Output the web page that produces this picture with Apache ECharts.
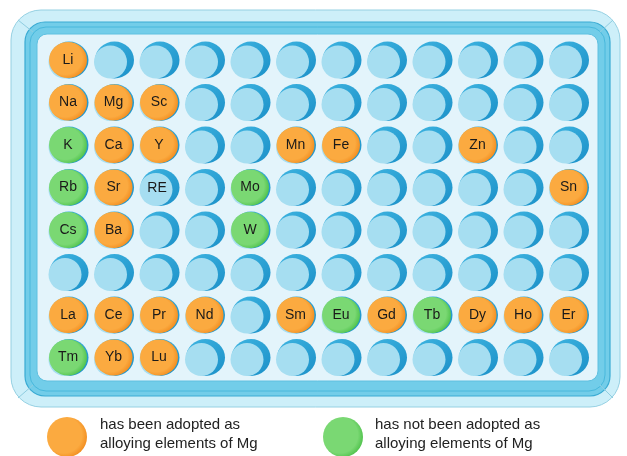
<!DOCTYPE html>
<html><head><meta charset="utf-8">
<script src="https://cdn.jsdelivr.net/npm/echarts@6/dist/echarts.min.js"></script>
<style>html,body{margin:0;padding:0;background:#fff}#c{width:627px;height:456px}</style>
</head><body><div id="c"></div>
<script>
const nCols = 12, nRows = 8;
// [name, column, row]
const adopted = [
  ['Li',0,0],['Na',0,1],['Mg',1,1],['Sc',2,1],
  ['Ca',1,2],['Y',2,2],['Mn',5,2],['Fe',6,2],['Zn',9,2],
  ['Sr',1,3],['Sn',11,3],['Ba',1,4],
  ['La',0,6],['Ce',1,6],['Pr',2,6],['Nd',3,6],['Sm',5,6],['Gd',7,6],['Dy',9,6],['Ho',10,6],['Er',11,6],
  ['Yb',1,7],['Lu',2,7]
];
const notAdopted = [
  ['K',0,2],['Rb',0,3],['Mo',4,3],['Cs',0,4],['W',4,4],['Eu',6,6],['Tb',8,6],['Tm',0,7]
];
const wellLabels = [['RE',2,3]];
const legendTexts = ['has been adopted as\nalloying elements of Mg','has not been adopted as\nalloying elements of Mg'];

const wells = [];
for (let r = 0; r < nRows; r++) for (let c = 0; c < nCols; c++) wells.push([c, r]);

function grad(c1, c2) {
  return {type:'radial', x:0.42, y:0.45, r:0.6, colorStops:[{offset:0,color:c1},{offset:0.75,color:c1},{offset:1,color:c2}]};
}
const orange = grad('#fbaa40', '#f28d1f');
const green = grad('#7ad873', '#4fc24c');
const font = '"Liberation Sans", Arial, sans-serif';

const chart = echarts.init(document.getElementById('c'));
chart.setOption({
  animation:false,
  grid:{left:68, right:58.5, top:60, bottom:98.5},
  xAxis:{type:'value', min:0, max:nCols-1, show:false},
  yAxis:{type:'value', min:0, max:nRows-1, inverse:true, show:false},
  graphic:[
    {type:'rect', z:-10, shape:{x:11,y:10,width:609,height:397,r:30}, style:{fill:'#cdeff9', stroke:'#95d0e2', lineWidth:1}},
    {type:'rect', z:-9, shape:{x:25,y:22,width:585,height:374,r:20}, style:{fill:'#72cde9', stroke:'#3aabd3', lineWidth:1.2}},
    {type:'rect', z:-8, shape:{x:30,y:27,width:575,height:364,r:16}, style:{fill:'none', stroke:'#48b8dc', lineWidth:1}},
    {type:'rect', z:-7, shape:{x:37,y:34,width:561,height:347,r:10}, style:{fill:'#e3f4fb', stroke:'#5fc0e0', lineWidth:1}},
    {type:'line', z:-8, shape:{x1:18,y1:20,x2:33,y2:32}, style:{stroke:'#8fcde0', lineWidth:1}},
    {type:'line', z:-8, shape:{x1:613,y1:20,x2:600,y2:32}, style:{stroke:'#8fcde0', lineWidth:1}},
    {type:'line', z:-8, shape:{x1:18,y1:398,x2:33,y2:385}, style:{stroke:'#8fcde0', lineWidth:1}},
    {type:'line', z:-8, shape:{x1:613,y1:398,x2:600,y2:385}, style:{stroke:'#8fcde0', lineWidth:1}},
    {type:'circle', shape:{cx:67,cy:437,r:20}, style:{fill:orange}},
    {type:'circle', shape:{cx:343,cy:437,r:20}, style:{fill:green}},
    {type:'text', left:100, top:415, style:{text:legendTexts[0], font:'15px '+font, fill:'#222', lineHeight:19}},
    {type:'text', left:375, top:415, style:{text:legendTexts[1], font:'15px '+font, fill:'#222', lineHeight:19}}
  ],
  series:[
    {type:'scatter', silent:true, data:wells, symbolSize:[39,37], symbolOffset:[1,0],
      itemStyle:{opacity:1, color:{type:'linear',x:0,y:0,x2:1,y2:1,colorStops:[{offset:0,color:'#3fb5e1'},{offset:1,color:'#1b90c8'}]}}, z:2},
    {type:'scatter', silent:true, data:wells, symbolSize:[33,33], symbolOffset:[-3,2],
      itemStyle:{opacity:1, color:'#a6def1'}, z:3},
    {type:'scatter', silent:true, data:wellLabels.map(d=>({value:[d[1],d[2]], name:d[0]})), symbolSize:1,
      itemStyle:{opacity:1, color:'rgba(0,0,0,0)'}, z:4,
      label:{show:true, position:'inside', formatter:'{b}', fontFamily:font, fontSize:14, color:'#1a1a1a', offset:[-2,1]}},
    {type:'scatter', silent:true, data:adopted.map(d=>({value:[d[1],d[2]], name:d[0]})), symbolSize:[38,36],
      itemStyle:{opacity:1, color:orange}, z:5,
      label:{show:true, position:'inside', formatter:'{b}', fontFamily:font, fontSize:14, color:'#1a1a1a'}},
    {type:'scatter', silent:true, data:notAdopted.map(d=>({value:[d[1],d[2]], name:d[0]})), symbolSize:[38,36],
      itemStyle:{opacity:1, color:green}, z:5,
      label:{show:true, position:'inside', formatter:'{b}', fontFamily:font, fontSize:14, color:'#1a1a1a'}}
  ]
});
</script></body></html>
